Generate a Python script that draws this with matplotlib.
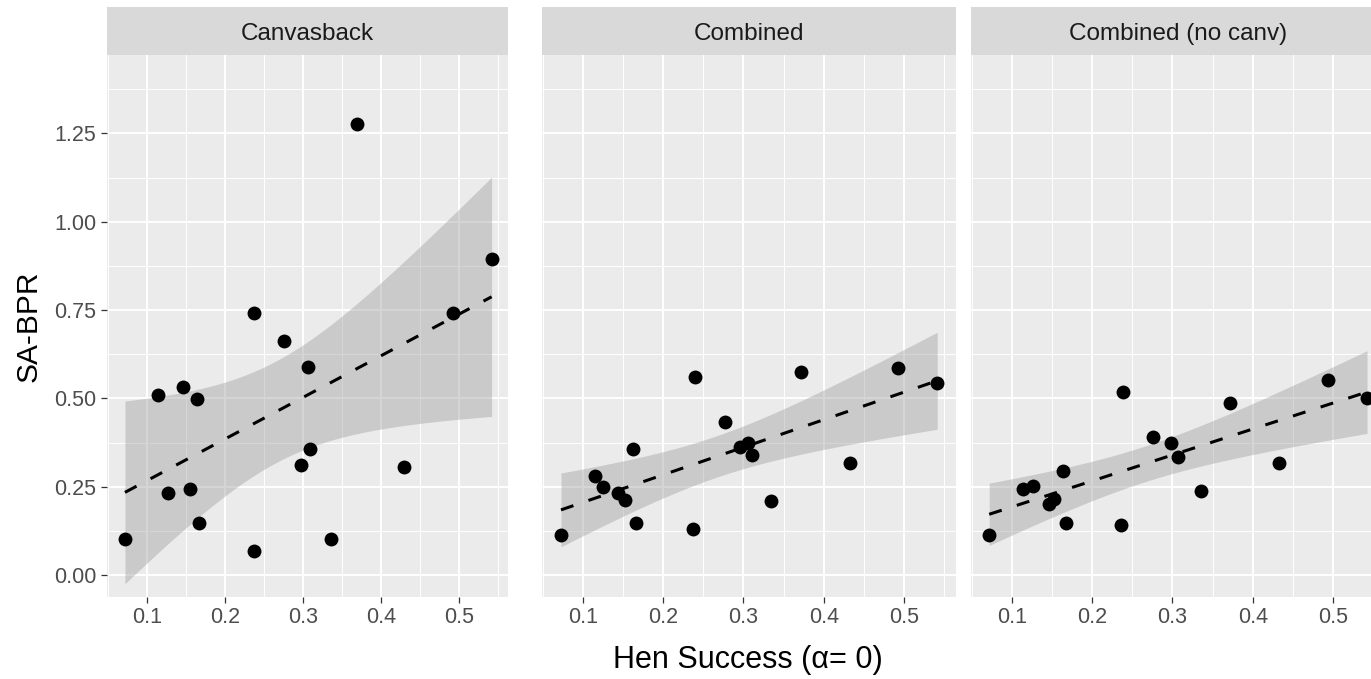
import numpy as np
import matplotlib
matplotlib.use("Agg")
import matplotlib.pyplot as plt
from matplotlib.ticker import MultipleLocator, FixedLocator

plt.rcParams['font.family'] = ['Liberation Sans', 'DejaVu Sans']

# ---------------- data ----------------
panel_titles = ["Canvasback", "Combined", "Combined (no canv)"]

canv_x = [0.072, 0.115, 0.127, 0.147, 0.155, 0.165, 0.167, 0.237, 0.238, 0.276,
          0.298, 0.306, 0.309, 0.336, 0.370, 0.430, 0.492, 0.542]
canv_y = [0.102, 0.510, 0.232, 0.533, 0.244, 0.499, 0.147, 0.068, 0.742, 0.663,
          0.312, 0.589, 0.357, 0.102, 1.276, 0.306, 0.742, 0.896]

comb_x = [0.073, 0.115, 0.125, 0.144, 0.152, 0.163, 0.166, 0.237, 0.240, 0.277,
          0.296, 0.306, 0.310, 0.334, 0.372, 0.432, 0.492, 0.541]
comb_y = [0.114, 0.280, 0.249, 0.231, 0.212, 0.358, 0.147, 0.131, 0.562, 0.433,
          0.363, 0.374, 0.339, 0.211, 0.575, 0.317, 0.585, 0.544]

nocanv_x = [0.072, 0.114, 0.127, 0.146, 0.153, 0.164, 0.167, 0.236, 0.239, 0.276,
            0.298, 0.307, 0.336, 0.371, 0.432, 0.493, 0.542]
nocanv_y = [0.114, 0.245, 0.251, 0.202, 0.214, 0.295, 0.147, 0.141, 0.517, 0.391,
            0.374, 0.333, 0.238, 0.488, 0.317, 0.551, 0.500]

x_ticks = [0.1, 0.2, 0.3, 0.4, 0.5]
x_tick_labels = ["0.1", "0.2", "0.3", "0.4", "0.5"]
y_ticks = [0.00, 0.25, 0.50, 0.75, 1.00, 1.25]
y_tick_labels = ["0.00", "0.25", "0.50", "0.75", "1.00", "1.25"]

x_label = "Hen Success (\u03b1= 0)"
y_label = "SA-BPR"

# t 0.975 quantiles by degrees of freedom
T975 = {14: 2.145, 15: 2.131, 16: 2.120, 17: 2.110}

# ---------------- layout ----------------
W, H = 1371, 679
fig = plt.figure(figsize=(W / 100, H / 100), dpi=100)
fig.patch.set_facecolor("white")


def rect(l, t, w, h):
    return [l / W, 1 - (t + h) / H, w / W, h / H]


panel_top, panel_h = 55, 542
strip_top, strip_h = 7, 48
panels = [(107, 401), (541.7, 414), (970.7, 414)]
xlims = [(0.049, 0.563), (0.049, 0.564), (0.049, 0.564)]
ylim = (-0.062, 1.472)

datasets = [(canv_x, canv_y), (comb_x, comb_y), (nocanv_x, nocanv_y)]

for i, ((l, w), title, (xs, ys), xl) in enumerate(zip(panels, panel_titles, datasets, xlims)):
    ax = fig.add_axes(rect(l, panel_top, w, panel_h))
    ax.set_facecolor("#EBEBEB")
    ax.set_xlim(*xl)
    ax.set_ylim(*ylim)
    for s in ax.spines.values():
        s.set_visible(False)
    ax.xaxis.set_major_locator(FixedLocator(x_ticks))
    ax.xaxis.set_minor_locator(MultipleLocator(0.05))
    ax.yaxis.set_major_locator(FixedLocator(y_ticks))
    ax.yaxis.set_minor_locator(MultipleLocator(0.125))
    ax.set_xticklabels(x_tick_labels)
    ax.grid(which="major", color="white", lw=1.4, zorder=0)
    ax.grid(which="minor", color="white", lw=0.7, zorder=0)
    ax.set_axisbelow(True)
    ax.tick_params(which="minor", length=0)
    ax.tick_params(axis="x", which="major", length=4.5, width=0.9, color="#333333",
                   labelsize=15.5, labelcolor="#4D4D4D", pad=3)
    if i == 0:
        ax.set_yticklabels(y_tick_labels)
        ax.tick_params(axis="y", which="major", length=4.5, width=0.9, color="#333333",
                       labelsize=15.5, labelcolor="#4D4D4D", pad=3)
    else:
        ax.tick_params(axis="y", which="major", length=0, labelleft=False)

    # linear fit with 95% confidence band
    x = np.asarray(xs)
    y = np.asarray(ys)
    n = len(x)
    b1, b0 = np.polyfit(x, y, 1)
    resid = y - (b0 + b1 * x)
    s = np.sqrt(np.sum(resid ** 2) / (n - 2))
    sxx = np.sum((x - x.mean()) ** 2)
    xg = np.linspace(x.min(), x.max(), 80)
    yg = b0 + b1 * xg
    se = s * np.sqrt(1 / n + (xg - x.mean()) ** 2 / sxx)
    t = T975[n - 2]
    ax.fill_between(xg, yg - t * se, yg + t * se, color="#999999", alpha=0.4,
                    lw=0, zorder=2)
    ax.plot(xg, yg, color="black", lw=2.2, linestyle=(0, (4.3, 5.2)), zorder=3)
    ax.scatter(x, y, s=100, color="black", zorder=4, lw=0)

    # strip
    sax = fig.add_axes(rect(l, strip_top, w, strip_h))
    sax.set_facecolor("#D9D9D9")
    sax.set_xticks([])
    sax.set_yticks([])
    for sp in sax.spines.values():
        sp.set_visible(False)
    sax.text(0.5, 0.44, title, transform=sax.transAxes, ha="center", va="center",
             fontsize=17.5, color="#1A1A1A")

fig.text(29 / W, 1 - 326 / H, y_label, rotation=90, ha="center", va="center",
         fontsize=21.5, color="black")
fig.text(748 / W, 1 - 660 / H, x_label, ha="center", va="center",
         fontsize=22, color="black")

fig.savefig("out.png", dpi=100, facecolor="white")
